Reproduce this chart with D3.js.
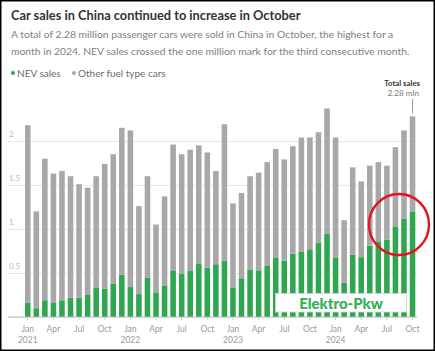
<!DOCTYPE html>
<html>
<head>
<meta charset="utf-8">
<script src="https://cdn.jsdelivr.net/npm/d3@7"></script>
<style>
  body { margin: 0; background: #fff; }
  svg { display: block; font-family: Lato, "Noto Sans", sans-serif; }
</style>
</head>
<body>
<div class="container"></div>
<script>
const WIDTH = 435;
const HEIGHT = 351;

const YEARS = ["2021", "2022", "2023", "2024"];
const MONTHS = ["Jan", "Feb", "Mar", "Apr", "May", "Jun", "Jul", "Aug", "Sep", "Oct", "Nov", "Dec"];
const LAST_MONTH = "2024-Oct";
const TICK_MONTHS = ["Jan", "Apr", "Jul", "Oct"];
const Y_TICKS = [0.5, 1, 1.5, 2];

// million cars per month, Jan 2021 .. Oct 2024
const nevSales = [
  0.16, 0.10, 0.19, 0.16, 0.19, 0.22, 0.22, 0.25, 0.33, 0.32, 0.38, 0.48,
  0.34, 0.26, 0.45, 0.28, 0.36, 0.53, 0.49, 0.53, 0.61, 0.56, 0.60, 0.64,
  0.33, 0.44, 0.54, 0.53, 0.58, 0.67, 0.64, 0.72, 0.74, 0.77, 0.84, 0.95,
  0.67, 0.39, 0.71, 0.68, 0.81, 0.86, 0.88, 1.03, 1.12, 1.20
];
const otherSales = [
  2.02, 1.10, 1.61, 1.47, 1.47, 1.38, 1.29, 1.22, 1.27, 1.42, 1.47, 1.67,
  1.78, 1.00, 1.15, 0.77, 1.01, 1.43, 1.36, 1.37, 1.34, 1.31, 1.06, 1.55,
  0.96, 0.97, 1.06, 1.11, 1.18, 1.24, 1.15, 1.22, 1.30, 1.27, 1.26, 1.42,
  1.37, 0.71, 0.99, 0.86, 0.91, 0.90, 0.84, 0.90, 1.00, 1.08
];

const GREEN = "#2fa64f";
const GREY = "#a8a8a8";

var periods = [];
YEARS.forEach(function (y) {
  MONTHS.forEach(function (m) {
    if (periods.length && periods[periods.length - 1] === LAST_MONTH) return;
    periods.push(y + "-" + m);
  });
});

var rows = periods.map(function (p, i) {
  return { period: p, nev: nevSales[i], other: otherSales[i] };
});

var translate = function (x, y) {
  return "translate(" + x + "," + y + ")";
};

var xScale = d3.scaleBand()
  .domain(periods)
  .range([22, 418.3])
  .padding(0.35);

var yScale = d3.scaleLinear()
  .domain([0, 2.5])
  .range([317, 97]);

var svg = d3.select(".container").append("svg")
  .attr("width", WIDTH)
  .attr("height", HEIGHT);

svg.append("rect")
  .attr("width", WIDTH)
  .attr("height", HEIGHT)
  .attr("fill", "#fff");

// heading
svg.append("text")
  .attr("x", 11).attr("y", 20)
  .attr("font-size", 12.8).attr("font-weight", 700)
  .attr("fill", "#333")
  .text("Car sales in China continued to increase in October");

var sub = svg.append("text")
  .attr("font-size", 10.35)
  .attr("fill", "#808080");
sub.append("tspan").attr("x", 11).attr("y", 38)
  .text("A total of 2.28 million passenger cars were sold in China in October, the highest for a");
sub.append("tspan").attr("x", 11).attr("y", 55)
  .text("month in 2024. NEV sales crossed the one million mark for the third consecutive month.");

// legend
var legend = svg.append("g").attr("transform", translate(11, 73));
[["NEV sales", GREEN, 0], ["Other fuel type cars", GREY, 61]].forEach(function (d) {
  legend.append("circle").attr("cx", d[2] + 2).attr("cy", 0).attr("r", 2).attr("fill", d[1]);
  legend.append("text").attr("x", d[2] + 6).attr("y", 3.5)
    .attr("font-size", 10).attr("fill", "#6d6d6d").text(d[0]);
});

// y grid
var yAxis = d3.axisRight(yScale).tickValues(Y_TICKS).tickSize(409)
  .tickFormat(function (d) { return d; });
var gy = svg.append("g").attr("transform", translate(8, 0)).call(yAxis);
gy.select(".domain").remove();
gy.selectAll("line").attr("stroke", "#e8e8e8").attr("stroke-width", 1.2);
gy.selectAll("text")
  .attr("x", 1).attr("dy", -5)
  .attr("text-anchor", "start")
  .attr("font-size", 8).attr("font-family", "Lato, sans-serif")
  .attr("fill", "#bdbdbd");

// stacked bars
var series = d3.stack().keys(["nev", "other"])(rows);
var colors = { nev: GREEN, other: GREY };

svg.append("g").selectAll("g")
  .data(series)
  .enter().append("g")
  .attr("fill", function (s) { return colors[s.key]; })
  .selectAll("rect")
  .data(function (s) { return s; })
  .enter().append("rect")
  .attr("x", function (d) { return xScale(d.data.period); })
  .attr("width", xScale.bandwidth())
  .attr("y", function (d) { return yScale(d[1]); })
  .attr("height", function (d) { return yScale(d[0]) - yScale(d[1]); });

// baseline + x axis
svg.append("line")
  .attr("x1", 8).attr("x2", 417)
  .attr("y1", yScale(0)).attr("y2", yScale(0))
  .attr("stroke", "#b3b3b3").attr("stroke-width", 1.2);

var xTicks = periods.filter(function (p) {
  return TICK_MONTHS.indexOf(p.split("-")[1]) >= 0;
});
var xAxis = d3.axisBottom(xScale).tickValues(xTicks).tickSize(3)
  .tickFormat(function (p) { return p.split("-")[1]; });
var gx = svg.append("g").attr("transform", translate(0, yScale(0))).call(xAxis);
gx.select(".domain").remove();
gx.selectAll("line").attr("stroke", "#ccc");
gx.selectAll("text")
  .attr("y", 15).attr("dy", 0)
  .attr("font-size", 8.5).attr("font-family", "Lato, sans-serif")
  .attr("fill", "#9a9a9a");
gx.selectAll(".tick")
  .filter(function (p) { return p.split("-")[1] === "Jan"; })
  .append("text")
  .attr("y", 26)
  .attr("text-anchor", "middle")
  .attr("font-size", 8.5).attr("font-family", "Lato, sans-serif")
  .attr("fill", "#9a9a9a")
  .text(function (p) { return p.split("-")[0]; });

// total annotation for last bar
var last = rows[rows.length - 1];
var lastX = xScale(last.period) + xScale.bandwidth() / 2;
svg.append("text")
  .attr("x", 420).attr("y", 86)
  .attr("text-anchor", "end")
  .attr("font-size", 7.8).attr("font-weight", 700).attr("fill", "#333")
  .text("Total sales");
svg.append("text")
  .attr("x", 419).attr("y", 96)
  .attr("text-anchor", "end")
  .attr("font-size", 8.2).attr("fill", "#777")
  .text(d3.format(".2f")(last.nev + last.other) + " mln");
svg.append("line")
  .attr("x1", lastX).attr("x2", lastX)
  .attr("y1", 99).attr("y2", yScale(last.nev + last.other) - 3)
  .attr("stroke", "#999").attr("stroke-width", 1);

// highlight circle
svg.append("ellipse")
  .attr("cx", 399).attr("cy", 224.5)
  .attr("rx", 30).attr("ry", 30.5)
  .attr("fill", "none").attr("stroke", "#e3151c").attr("stroke-width", 2.4);

// stamp
svg.append("rect")
  .attr("x", 275.5).attr("y", 293.5)
  .attr("width", 131).attr("height", 18.5)
  .attr("fill", "#fff").attr("stroke", "#d6d6d6").attr("stroke-width", 0.8);
svg.append("text")
  .attr("x", 341).attr("y", 308.5)
  .attr("text-anchor", "middle")
  .attr("font-size", 15).attr("font-weight", 900)
  .attr("font-family", "Lato, sans-serif")
  .attr("fill", "#2fb154")
  .text("Elektro-Pkw");

// frame
svg.append("rect")
  .attr("x", 0.75).attr("y", 0.75)
  .attr("width", WIDTH - 1.5).attr("height", HEIGHT - 1.5)
  .attr("fill", "none").attr("stroke", "#000").attr("stroke-width", 1.5);
</script>
</body>
</html>
